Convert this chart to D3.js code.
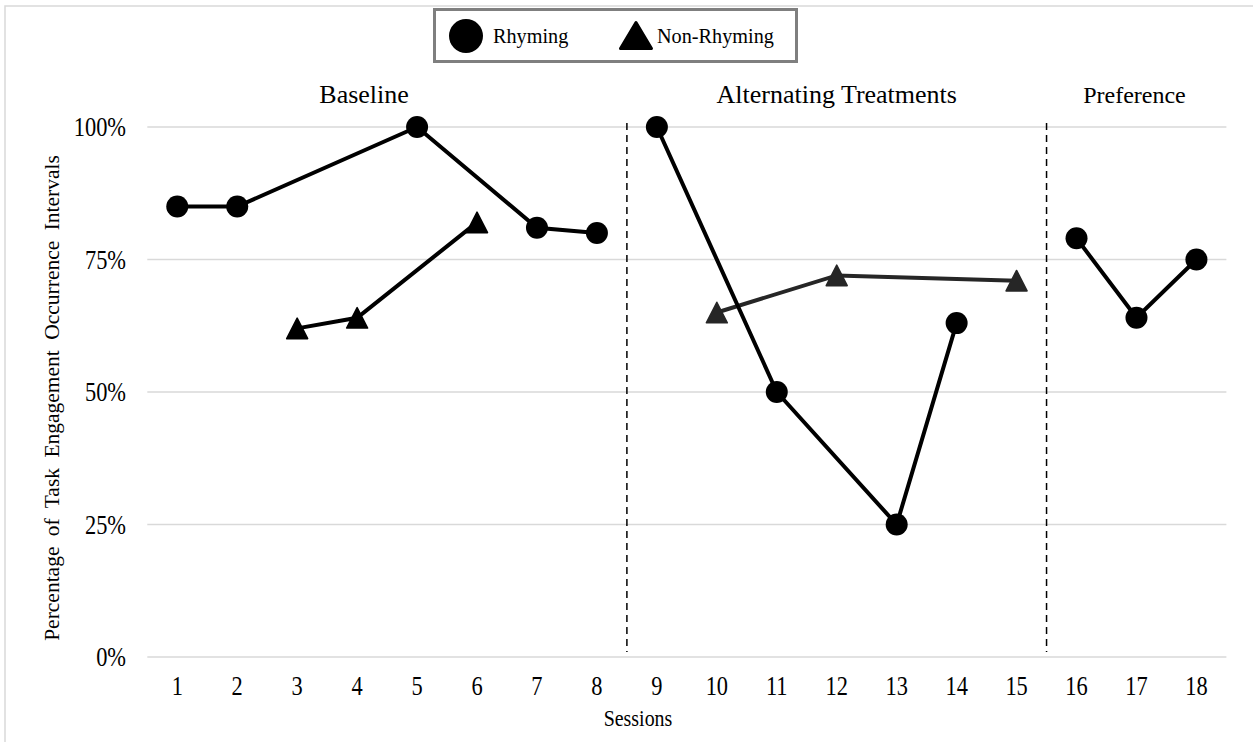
<!DOCTYPE html>
<html>
<head>
<meta charset="utf-8">
<script src="https://cdn.jsdelivr.net/npm/d3@7"></script>
<style>
  body { margin: 0; background: #fff; }
  svg { display: block; }
</style>
</head>
<body>
<div id="chart"></div>
<script>
// sessions on the x axis
const sessions = [1, 2, 3, 4, 5, 6, 7, 8, 9, 10, 11, 12, 13, 14, 15, 16, 17, 18]
// share of intervals with task engagement, null = not run that session
const rhyming = [0.85, 0.85, null, null, 1.0, null, 0.81, 0.80, 1.0, null, 0.50, null, 0.25, 0.63, null, 0.79, 0.64, 0.75]
const nonRhyming = [null, null, 0.62, 0.64, null, 0.82, null, null, null, 0.65, null, 0.72, null, null, 0.71, null, null, null]
const phases = ['Baseline', 'Alternating Treatments', 'Preference']
const phaseEnds = [8, 15, 18] // last session of each phase
const yTicks = [0, 0.25, 0.5, 0.75, 1]

const W = 1253, H = 742
const plot = { left: 147.3, right: 1226.4, top: 127, bottom: 657 }
const sx = 0.83 // axis text is set a bit narrow in the reference

const svg = d3.select('#chart').append('svg')
  .attr('width', W).attr('height', H).attr('viewBox', `0 0 ${W} ${H}`)
  .attr('font-family', 'Liberation Serif, Times New Roman, serif')

// outer chart frame (right/bottom edges fall outside the picture)
svg.append('rect')
  .attr('x', 5).attr('y', 6).attr('width', W + 20).attr('height', H + 20)
  .attr('fill', 'none').attr('stroke', '#d9d9d9').attr('stroke-width', 1.5)

const x = d3.scalePoint().domain(sessions).range([plot.left, plot.right]).padding(0.5)
const y = d3.scaleLinear().domain([0, 1]).range([plot.bottom, plot.top])

// grid
svg.append('g').selectAll('line').data(yTicks).join('line')
  .attr('x1', plot.left).attr('x2', plot.right)
  .attr('y1', d => y(d)).attr('y2', d => y(d))
  .attr('stroke', '#d9d9d9').attr('stroke-width', 1.5)

const narrowText = (g, tx, ty, str, size, anchor) =>
  g.append('text')
    .attr('transform', `translate(${tx},${ty}) scale(${sx},1)`)
    .attr('text-anchor', anchor)
    .attr('font-size', size)
    .attr('fill', '#000')
    .text(str)

// y axis labels
const yAxis = svg.append('g')
yTicks.forEach(t => narrowText(yAxis, 126, y(t) + 9, d3.format('.0%')(t), 27, 'end'))

// x axis labels
const xAxis = svg.append('g')
sessions.forEach(s => narrowText(xAxis, x(s), 695, s, 27, 'middle'))

narrowText(svg, 638, 726, 'Sessions', 24, 'middle')

svg.append('text')
  .attr('transform', `translate(59,${(plot.top + plot.bottom) / 2 + 6}) rotate(-90)`)
  .attr('text-anchor', 'middle')
  .attr('font-size', 21.5)
  .attr('word-spacing', 5)
  .text('Percentage of Task Engagement Occurrence Intervals')

// phase change lines + labels
const step = x.step()
const phaseStarts = [sessions[0]].concat(phaseEnds.slice(0, -1).map(e => e + 1))
const labelShift = [-23, 0, -2]

svg.append('g').selectAll('line').data(phaseEnds.slice(0, -1)).join('line')
  .attr('x1', d => x(d) + step / 2).attr('x2', d => x(d) + step / 2)
  .attr('y1', y(1) - 4).attr('y2', y(0) - 5)
  .attr('stroke', '#000').attr('stroke-width', 1.5)
  .attr('stroke-dasharray', '7,5')

svg.append('g').selectAll('text').data(phases).join('text')
  .attr('x', (d, i) => (x(phaseStarts[i]) + x(phaseEnds[i])) / 2 + labelShift[i])
  .attr('y', 103)
  .attr('text-anchor', 'middle')
  .attr('font-size', (d, i) => i === 2 ? 24 : 26)
  .text(d => d)

// series split into phase segments
const triangle = (w, h) => `M0,${-h / 2}L${w / 2},${h / 2}L${-w / 2},${h / 2}Z`

const segments = (values) => phases.map((p, i) =>
  sessions
    .map((s, j) => ({ s, v: values[j] }))
    .filter(d => d.v !== null && d.s >= phaseStarts[i] && d.s <= phaseEnds[i])
)

const line = d3.line().x(d => x(d.s)).y(d => y(d.v))

const series = [
  { name: 'Non-Rhyming', values: nonRhyming, shape: 'triangle', colors: ['#000', '#262626', '#262626'] },
  { name: 'Rhyming', values: rhyming, shape: 'circle', colors: ['#000', '#000', '#000'] }
]

series.forEach(sr => {
  const g = svg.append('g')
  segments(sr.values).forEach((seg, i) => {
    const col = sr.colors[i]
    g.append('path').datum(seg)
      .attr('d', line)
      .attr('fill', 'none').attr('stroke', col).attr('stroke-width', 4)
    if (sr.shape === 'circle') {
      g.selectAll(null).data(seg).join('circle')
        .attr('cx', d => x(d.s)).attr('cy', d => y(d.v)).attr('r', 11)
        .attr('fill', col)
    } else {
      g.selectAll(null).data(seg).join('path')
        .attr('transform', d => `translate(${x(d.s)},${y(d.v)})`)
        .attr('d', triangle(21, 20.5))
        .attr('fill', col).attr('stroke', col).attr('stroke-width', 1.5)
        .attr('stroke-linejoin', 'round')
    }
  })
})

// legend
const legend = svg.append('g')
legend.append('rect')
  .attr('x', 434.5).attr('y', 9.5).attr('width', 362).attr('height', 52)
  .attr('fill', '#fff').attr('stroke', '#7f7f7f').attr('stroke-width', 3)
legend.append('circle').attr('cx', 466).attr('cy', 36).attr('r', 17).attr('fill', '#000')
legend.append('text').attr('transform', `translate(493,43) scale(0.92,1)`)
  .attr('font-size', 22).text(series[1].name)
legend.append('path').attr('transform', 'translate(636,35.5)')
  .attr('d', triangle(31, 26)).attr('fill', '#000').attr('stroke', '#000')
  .attr('stroke-width', 3).attr('stroke-linejoin', 'round')
legend.append('text').attr('transform', `translate(657,43) scale(0.92,1)`)
  .attr('font-size', 22).text(series[0].name)
</script>
</body>
</html>
